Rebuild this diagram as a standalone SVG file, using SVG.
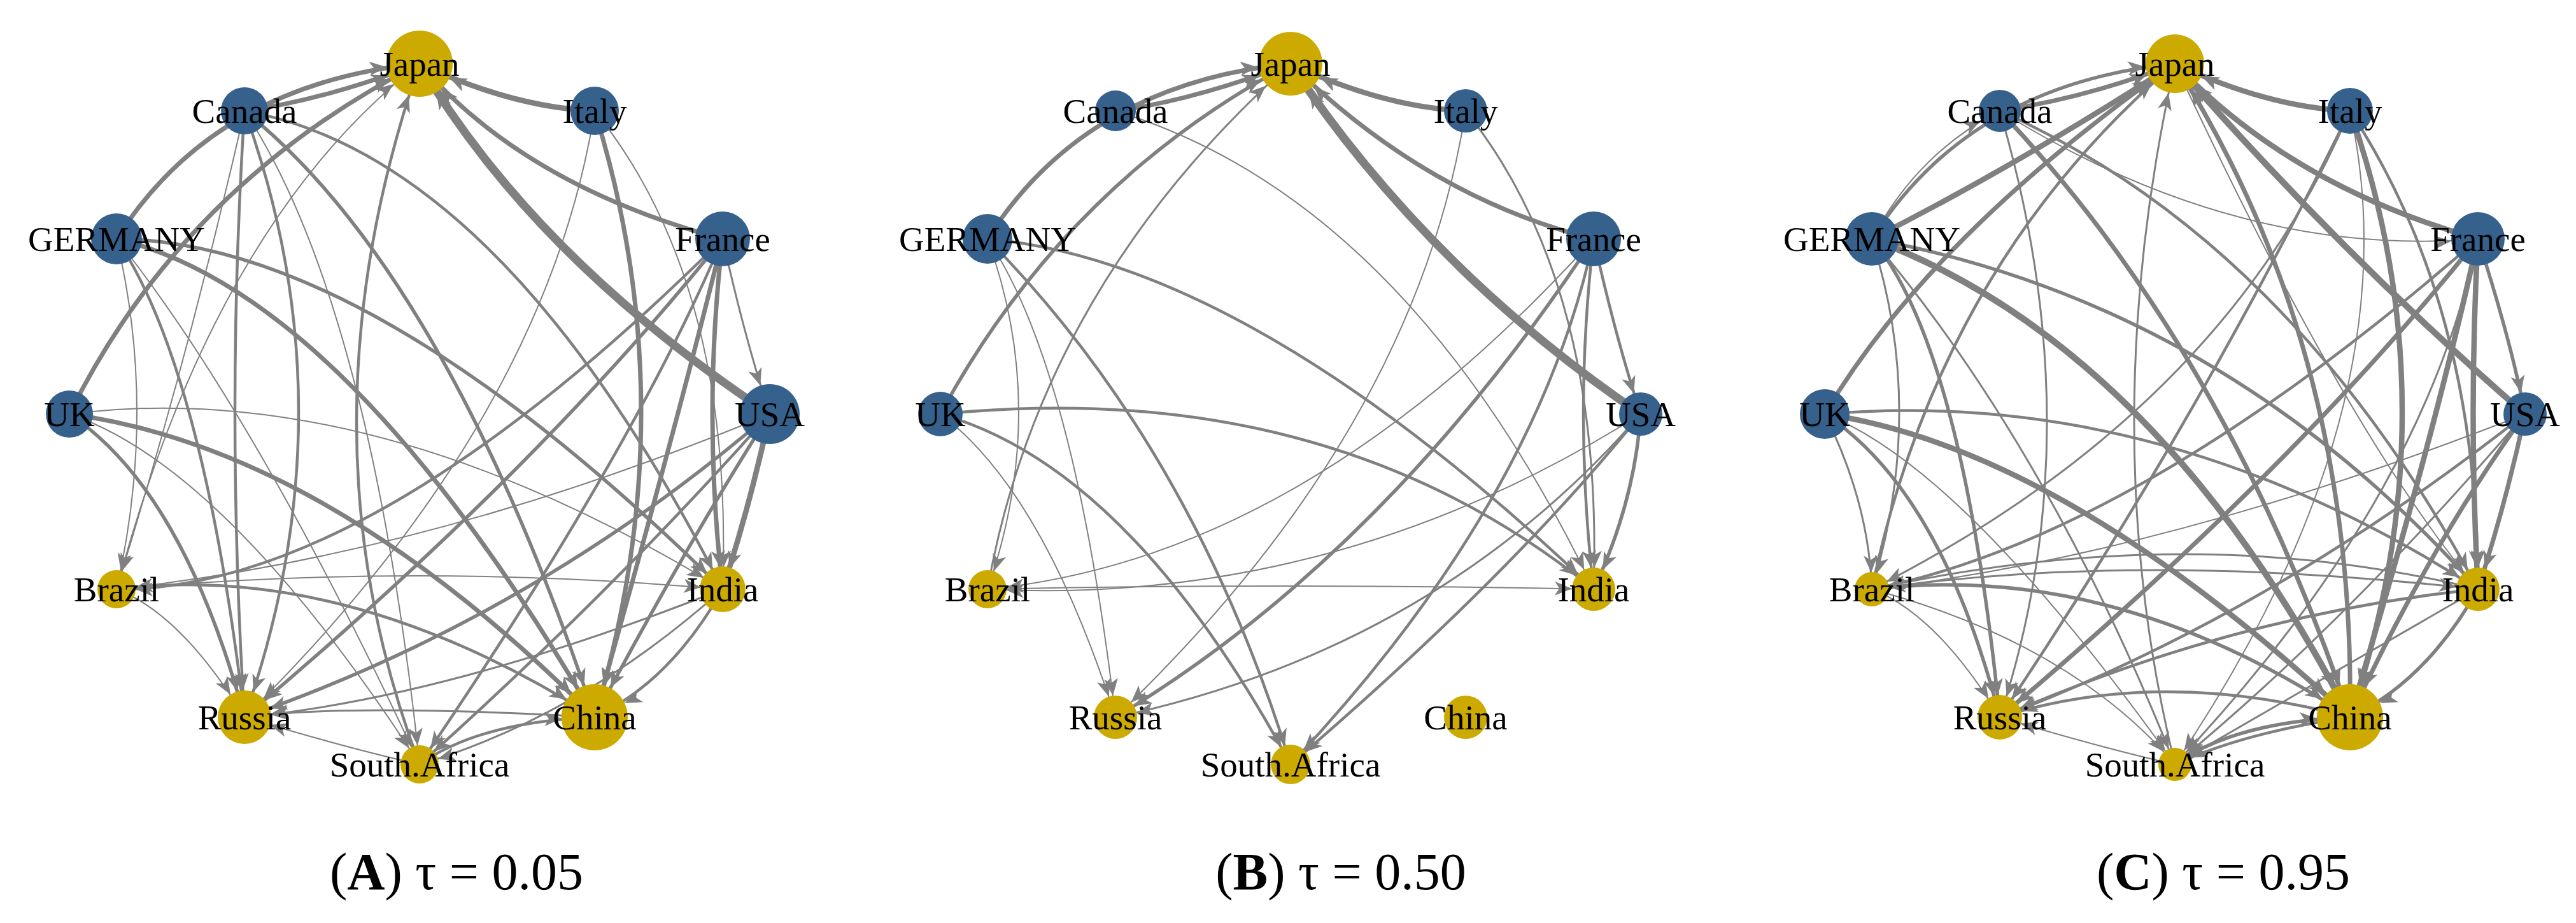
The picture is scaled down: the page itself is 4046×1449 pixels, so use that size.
<svg xmlns="http://www.w3.org/2000/svg" width="4046" height="1449" viewBox="0 0 4046 1449">
<style>
.e{fill:none;stroke:#808080;stroke-linecap:butt}
.t1{stroke-width:2}.t2{stroke-width:3}.t3{stroke-width:4.5}.t4{stroke-width:5.5}.t5{stroke-width:7}.t6{stroke-width:8.5}.t7{stroke-width:10}.t8{stroke-width:13}
.b{fill:#35618c}.y{fill:#ccaa00}
.lbl{font-family:"Liberation Serif","Times New Roman",serif;font-size:55px;text-anchor:middle;fill:#000}
.cap{font-family:"Liberation Serif","Times New Roman",serif;font-size:82px;text-anchor:middle;fill:#000}
</style>
<defs>
<path id="ah" d="M0,0 L-27,-11 L-20,0 L-27,11Z" fill="#808080"/>
<marker id="m26" markerUnits="userSpaceOnUse" orient="auto" refX="26" refY="0" markerWidth="1" markerHeight="1" overflow="visible"><use href="#ah"/></marker>
<marker id="m30" markerUnits="userSpaceOnUse" orient="auto" refX="30" refY="0" markerWidth="1" markerHeight="1" overflow="visible"><use href="#ah"/></marker>
<marker id="m34" markerUnits="userSpaceOnUse" orient="auto" refX="34" refY="0" markerWidth="1" markerHeight="1" overflow="visible"><use href="#ah"/></marker>
<marker id="m38" markerUnits="userSpaceOnUse" orient="auto" refX="38" refY="0" markerWidth="1" markerHeight="1" overflow="visible"><use href="#ah"/></marker>
<marker id="m42" markerUnits="userSpaceOnUse" orient="auto" refX="42" refY="0" markerWidth="1" markerHeight="1" overflow="visible"><use href="#ah"/></marker>
<marker id="m47" markerUnits="userSpaceOnUse" orient="auto" refX="47" refY="0" markerWidth="1" markerHeight="1" overflow="visible"><use href="#ah"/></marker>
<marker id="m52" markerUnits="userSpaceOnUse" orient="auto" refX="52" refY="0" markerWidth="1" markerHeight="1" overflow="visible"><use href="#ah"/></marker>
</defs>
<rect width="4046" height="1449" fill="#fff"/>

<!-- Panel A -->
<g id="panelA" transform="translate(659,650)">
<g id="connectorsA">
<path class="e t5" marker-end="url(#m52)" d="M-275,-476 Q-157,-491 0,-550"/>
<path class="e t5" marker-end="url(#m52)" d="M-476,-275 Q-322,-518 0,-550"/>
<path class="e t5" marker-end="url(#m52)" d="M-550,0 Q-371,-361 0,-550"/>
<path class="e t1" marker-end="url(#m52)" d="M-476,275 Q-322,-300 0,-550"/>
<path class="e t3" marker-end="url(#m52)" d="M0,550 Q-198,26 0,-550"/>
<path class="e t6" marker-end="url(#m52)" d="M275,-476 Q147,-481 0,-550"/>
<path class="e t5" marker-end="url(#m52)" d="M476,-275 Q166,-358 0,-550"/>
<path class="e t8" marker-end="url(#m52)" d="M550,0 Q181,-245 0,-550"/>
<path class="e t3" marker-end="url(#m42)" d="M-275,-476 Q-305,-6 -275,476"/>
<path class="e t3" marker-end="url(#m42)" d="M-275,-476 Q-105,-6 -275,476"/>
<path class="e t1" marker-end="url(#m30)" d="M-275,-476 Q-78,-177 0,550"/>
<path class="e t4" marker-end="url(#m52)" d="M-275,-476 Q42,-222 275,476"/>
<path class="e t3" marker-end="url(#m34)" d="M-275,-476 Q131,-403 476,275"/>
<path class="e t1" marker-end="url(#m30)" d="M-275,-476 Q-360,-100 -476,275"/>
<path class="e t1" marker-end="url(#m30)" d="M-476,-275 Q-412,-6 -476,275"/>
<path class="e t3" marker-end="url(#m42)" d="M-476,-275 Q-340,-74 -275,476"/>
<path class="e t1" marker-end="url(#m30)" d="M-476,-275 Q-254,4 0,550"/>
<path class="e t5" marker-end="url(#m52)" d="M-476,-275 Q-115,-190 275,476"/>
<path class="e t4" marker-end="url(#m34)" d="M-476,-275 Q-78,-272 476,275"/>
<path class="e t4" marker-end="url(#m42)" d="M-550,0 Q-371,120 -275,476"/>
<path class="e t5" marker-end="url(#m52)" d="M-550,0 Q-146,54 275,476"/>
<path class="e t1" marker-end="url(#m34)" d="M-550,0 Q-75,-61 476,275"/>
<path class="e t1" marker-end="url(#m30)" d="M-550,0 Q-303,83 0,550"/>
<path class="e t3" marker-end="url(#m30)" d="M476,-275 Q-78,276 -476,275"/>
<path class="e t4" marker-end="url(#m42)" d="M476,-275 Q183,91 -275,476"/>
<path class="e t5" marker-end="url(#m52)" d="M476,-275 Q406,10 275,476"/>
<path class="e t5" marker-end="url(#m34)" d="M476,-275 Q444,0 476,275"/>
<path class="e t3" marker-end="url(#m30)" d="M476,-275 Q338,54 0,550"/>
<path class="e t2" marker-end="url(#m47)" d="M476,-275 Q511,-118 550,0"/>
<path class="e t5" marker-end="url(#m52)" d="M275,-476 Q421,-6 275,476"/>
<path class="e t1" marker-end="url(#m42)" d="M275,-476 Q198,10 -275,476"/>
<path class="e t1" marker-end="url(#m34)" d="M275,-476 Q494,-205 476,275"/>
<path class="e t6" marker-end="url(#m34)" d="M550,0 Q520,140 476,275"/>
<path class="e t4" marker-end="url(#m52)" d="M550,0 Q421,202 275,476"/>
<path class="e t4" marker-end="url(#m42)" d="M550,0 Q180,318 -275,476"/>
<path class="e t3" marker-end="url(#m30)" d="M550,0 Q301,281 0,550"/>
<path class="e t1" marker-end="url(#m30)" d="M550,0 Q23,220 -476,275"/>
<path class="e t3" marker-end="url(#m52)" d="M-476,275 Q-115,230 275,476"/>
<path class="e t1" marker-end="url(#m42)" d="M-476,275 Q-374,314 -275,476"/>
<path class="e t1" marker-end="url(#m34)" d="M-476,275 Q-10,233 476,275"/>
<path class="e t3" marker-end="url(#m52)" d="M476,275 Q394,420 275,476"/>
<path class="e t2" marker-end="url(#m42)" d="M476,275 Q45,446 -275,476"/>
<path class="e t2" marker-end="url(#m30)" d="M476,275 Q252,475 0,550"/>
<path class="e t2" marker-end="url(#m42)" d="M275,476 Q-112,454 -275,476"/>
<path class="e t3" marker-end="url(#m52)" d="M0,550 Q94,483 275,476"/>
<path class="e t1" marker-end="url(#m42)" d="M0,550 Q-112,525 -275,476"/>
</g>
<g id="A-Japan"><circle class="y" cx="0" cy="-550" r="52"/><text class="lbl" x="0" y="-531">Japan</text></g>
<g id="A-Italy"><circle class="b" cx="275" cy="-476" r="38"/><text class="lbl" x="275" y="-457">Italy</text></g>
<g id="A-France"><circle class="b" cx="476" cy="-275" r="43"/><text class="lbl" x="476" y="-256">France</text></g>
<g id="A-USA"><circle class="b" cx="550" cy="0" r="47"/><text class="lbl" x="550" y="19">USA</text></g>
<g id="A-India"><circle class="y" cx="476" cy="275" r="36"/><text class="lbl" x="476" y="294">India</text></g>
<g id="A-China"><circle class="y" cx="275" cy="476" r="52"/><text class="lbl" x="275" y="495">China</text></g>
<g id="A-SouthAfrica"><circle class="y" cx="0" cy="550" r="30"/><text class="lbl" x="0" y="569">South.Africa</text></g>
<g id="A-Russia"><circle class="y" cx="-275" cy="476" r="42"/><text class="lbl" x="-275" y="495">Russia</text></g>
<g id="A-Brazil"><circle class="y" cx="-476" cy="275" r="30"/><text class="lbl" x="-476" y="294">Brazil</text></g>
<g id="A-UK"><circle class="b" cx="-550" cy="0" r="37"/><text class="lbl" x="-550" y="19">UK</text></g>
<g id="A-GERMANY"><circle class="b" cx="-476" cy="-275" r="40"/><text class="lbl" x="-476" y="-256">GERMANY</text></g>
<g id="A-Canada"><circle class="b" cx="-275" cy="-476" r="37"/><text class="lbl" x="-275" y="-457">Canada</text></g>
</g>

<!-- Panel B -->
<g id="panelB" transform="translate(2027,650)">
<g id="connectorsB">
<path class="e t5" marker-end="url(#m52)" d="M-275,-476 Q-157,-491 0,-550"/>
<path class="e t5" marker-end="url(#m52)" d="M-476,-275 Q-322,-518 0,-550"/>
<path class="e t4" marker-end="url(#m52)" d="M-550,0 Q-355,-361 0,-550"/>
<path class="e t2" marker-end="url(#m52)" d="M-476,275 Q-392,-200 0,-550"/>
<path class="e t6" marker-end="url(#m52)" d="M275,-476 Q147,-481 0,-550"/>
<path class="e t5" marker-end="url(#m52)" d="M476,-275 Q216,-339 0,-550"/>
<path class="e t8" marker-end="url(#m52)" d="M550,0 Q213,-229 0,-550"/>
<path class="e t1" marker-end="url(#m34)" d="M-275,-476 Q181,-337 476,275"/>
<path class="e t3" marker-end="url(#m34)" d="M-476,-275 Q-62,-238 476,275"/>
<path class="e t1" marker-end="url(#m30)" d="M-476,-275 Q-378,-6 -476,275"/>
<path class="e t1" marker-end="url(#m34)" d="M-476,-275 Q-340,-74 -275,476"/>
<path class="e t3" marker-end="url(#m30)" d="M-476,-275 Q-152,54 0,550"/>
<path class="e t3" marker-end="url(#m34)" d="M-550,0 Q61,-61 476,275"/>
<path class="e t3" marker-end="url(#m30)" d="M-550,0 Q-253,83 0,550"/>
<path class="e t1" marker-end="url(#m34)" d="M-550,0 Q-389,120 -275,476"/>
<path class="e t1" marker-end="url(#m34)" d="M275,-476 Q196,26 -275,476"/>
<path class="e t2" marker-end="url(#m34)" d="M275,-476 Q492,-205 476,275"/>
<path class="e t1" marker-end="url(#m30)" d="M476,-275 Q24,226 -476,275"/>
<path class="e t4" marker-end="url(#m34)" d="M476,-275 Q147,223 -275,476"/>
<path class="e t3" marker-end="url(#m30)" d="M476,-275 Q388,138 0,550"/>
<path class="e t3" marker-end="url(#m34)" d="M476,-275 Q511,-118 550,0"/>
<path class="e t3" marker-end="url(#m34)" d="M476,-275 Q444,0 476,275"/>
<path class="e t4" marker-end="url(#m34)" d="M550,0 Q540,140 476,275"/>
<path class="e t3" marker-end="url(#m30)" d="M550,0 Q351,249 0,550"/>
<path class="e t2" marker-end="url(#m34)" d="M550,0 Q230,368 -275,476"/>
<path class="e t1" marker-end="url(#m30)" d="M550,0 Q73,302 -476,275"/>
<path class="e t1" marker-end="url(#m34)" d="M-476,275 Q0,265 476,275"/>
</g>
<g id="B-Japan"><circle class="y" cx="0" cy="-550" r="50"/><text class="lbl" x="0" y="-531">Japan</text></g>
<g id="B-Italy"><circle class="b" cx="275" cy="-476" r="34"/><text class="lbl" x="275" y="-457">Italy</text></g>
<g id="B-France"><circle class="b" cx="476" cy="-275" r="43"/><text class="lbl" x="476" y="-256">France</text></g>
<g id="B-USA"><circle class="b" cx="550" cy="0" r="34"/><text class="lbl" x="550" y="19">USA</text></g>
<g id="B-India"><circle class="y" cx="476" cy="275" r="34"/><text class="lbl" x="476" y="294">India</text></g>
<g id="B-China"><circle class="y" cx="275" cy="476" r="34"/><text class="lbl" x="275" y="495">China</text></g>
<g id="B-SouthAfrica"><circle class="y" cx="0" cy="550" r="31"/><text class="lbl" x="0" y="569">South.Africa</text></g>
<g id="B-Russia"><circle class="y" cx="-275" cy="476" r="34"/><text class="lbl" x="-275" y="495">Russia</text></g>
<g id="B-Brazil"><circle class="y" cx="-476" cy="275" r="30"/><text class="lbl" x="-476" y="294">Brazil</text></g>
<g id="B-UK"><circle class="b" cx="-550" cy="0" r="35"/><text class="lbl" x="-550" y="19">UK</text></g>
<g id="B-GERMANY"><circle class="b" cx="-476" cy="-275" r="39"/><text class="lbl" x="-476" y="-256">GERMANY</text></g>
<g id="B-Canada"><circle class="b" cx="-275" cy="-476" r="32"/><text class="lbl" x="-275" y="-457">Canada</text></g>
</g>

<!-- Panel C -->
<g id="panelC" transform="translate(3416,650)">
<g id="connectorsC">
<path class="e t5" marker-end="url(#m47)" d="M-275,-476 Q-136,-497 0,-550"/>
<path class="e t4" marker-end="url(#m47)" d="M-476,-275 Q-322,-518 0,-550"/>
<path class="e t6" marker-end="url(#m47)" d="M-476,-275 Q-250,-389 0,-550"/>
<path class="e t5" marker-end="url(#m47)" d="M-550,0 Q-385,-279 0,-550"/>
<path class="e t3" marker-end="url(#m47)" d="M-476,275 Q-370,-234 0,-550"/>
<path class="e t2" marker-end="url(#m47)" d="M0,550 Q-128,26 0,-550"/>
<path class="e t6" marker-end="url(#m47)" d="M275,-476 Q147,-481 0,-550"/>
<path class="e t6" marker-end="url(#m47)" d="M476,-275 Q184,-357 0,-550"/>
<path class="e t7" marker-end="url(#m47)" d="M550,0 Q267,-245 0,-550"/>
<path class="e t5" marker-end="url(#m47)" d="M275,476 Q284,-103 0,-550"/>
<path class="e t1" marker-end="url(#m34)" d="M0,-550 Q270,31 476,275"/>
<path class="e t5" marker-end="url(#m52)" d="M-275,-476 Q78,-106 275,476"/>
<path class="e t3" marker-end="url(#m34)" d="M-275,-476 Q183,-271 476,275"/>
<path class="e t2" marker-end="url(#m34)" d="M-275,-476 Q-127,26 -275,476"/>
<path class="e t1" marker-end="url(#m42)" d="M-275,-476 Q97,-244 476,-275"/>
<path class="e t2" marker-end="url(#m26)" d="M-476,-275 Q-390,-6 -476,275"/>
<path class="e t4" marker-end="url(#m34)" d="M-476,-275 Q-334,-106 -275,476"/>
<path class="e t2" marker-end="url(#m26)" d="M-476,-275 Q-198,54 0,550"/>
<path class="e t7" marker-end="url(#m52)" d="M-476,-275 Q-27,-106 275,476"/>
<path class="e t4" marker-end="url(#m34)" d="M-476,-275 Q78,-172 476,275"/>
<path class="e t1" marker-end="url(#m34)" d="M-476,-275 Q-404,-410 -275,-476"/>
<path class="e t4" marker-end="url(#m34)" d="M-550,0 Q-367,120 -275,476"/>
<path class="e t6" marker-end="url(#m52)" d="M-550,0 Q-178,54 275,476"/>
<path class="e t3" marker-end="url(#m34)" d="M-550,0 Q-21,-45 476,275"/>
<path class="e t1" marker-end="url(#m26)" d="M-550,0 Q-333,83 0,550"/>
<path class="e t2" marker-end="url(#m26)" d="M-550,0 Q-481,138 -476,275"/>
<path class="e t6" marker-end="url(#m52)" d="M275,-476 Q439,-6 275,476"/>
<path class="e t3" marker-end="url(#m34)" d="M275,-476 Q476,-171 476,275"/>
<path class="e t3" marker-end="url(#m34)" d="M275,-476 Q28,26 -275,476"/>
<path class="e t1" marker-end="url(#m26)" d="M275,-476 Q378,-11 0,550"/>
<path class="e t2" marker-end="url(#m26)" d="M275,-476 Q76,-5 -476,275"/>
<path class="e t6" marker-end="url(#m34)" d="M476,-275 Q461,0 476,275"/>
<path class="e t6" marker-end="url(#m52)" d="M476,-275 Q406,41 275,476"/>
<path class="e t5" marker-end="url(#m34)" d="M476,-275 Q183,91 -275,476"/>
<path class="e t3" marker-end="url(#m26)" d="M476,-275 Q-58,192 -476,275"/>
<path class="e t2" marker-end="url(#m26)" d="M476,-275 Q390,138 0,550"/>
<path class="e t4" marker-end="url(#m34)" d="M476,-275 Q527,-118 550,0"/>
<path class="e t5" marker-end="url(#m34)" d="M550,0 Q520,140 476,275"/>
<path class="e t5" marker-end="url(#m52)" d="M550,0 Q403,202 275,476"/>
<path class="e t3" marker-end="url(#m34)" d="M550,0 Q146,318 -275,476"/>
<path class="e t2" marker-end="url(#m26)" d="M550,0 Q267,331 0,550"/>
<path class="e t1" marker-end="url(#m26)" d="M550,0 Q-9,220 -476,275"/>
<path class="e t4" marker-end="url(#m52)" d="M-476,275 Q-95,230 275,476"/>
<path class="e t1" marker-end="url(#m34)" d="M-476,275 Q-374,314 -275,476"/>
<path class="e t2" marker-end="url(#m34)" d="M-476,275 Q-58,215 476,275"/>
<path class="e t1" marker-end="url(#m26)" d="M-476,275 Q-164,359 0,550"/>
<path class="e t4" marker-end="url(#m52)" d="M476,275 Q394,420 275,476"/>
<path class="e t3" marker-end="url(#m34)" d="M476,275 Q97,314 -275,476"/>
<path class="e t2" marker-end="url(#m26)" d="M476,275 Q218,425 0,550"/>
<path class="e t2" marker-end="url(#m26)" d="M476,275 Q28,165 -476,275"/>
<path class="e t3" marker-end="url(#m34)" d="M275,476 Q-24,396 -275,476"/>
<path class="e t4" marker-end="url(#m52)" d="M0,550 Q94,483 275,476"/>
<path class="e t1" marker-end="url(#m34)" d="M0,550 Q-112,525 -275,476"/>
<path class="e t3" marker-end="url(#m26)" d="M275,476 Q112,499 0,550"/>
</g>
<g id="C-Japan"><circle class="y" cx="0" cy="-550" r="46"/><text class="lbl" x="0" y="-531">Japan</text></g>
<g id="C-Italy"><circle class="b" cx="275" cy="-476" r="36"/><text class="lbl" x="275" y="-457">Italy</text></g>
<g id="C-France"><circle class="b" cx="476" cy="-275" r="42"/><text class="lbl" x="476" y="-256">France</text></g>
<g id="C-USA"><circle class="b" cx="550" cy="0" r="34"/><text class="lbl" x="550" y="19">USA</text></g>
<g id="C-India"><circle class="y" cx="476" cy="275" r="34"/><text class="lbl" x="476" y="294">India</text></g>
<g id="C-China"><circle class="y" cx="275" cy="476" r="52"/><text class="lbl" x="275" y="495">China</text></g>
<g id="C-SouthAfrica"><circle class="y" cx="0" cy="550" r="26"/><text class="lbl" x="0" y="569">South.Africa</text></g>
<g id="C-Russia"><circle class="y" cx="-275" cy="476" r="35"/><text class="lbl" x="-275" y="495">Russia</text></g>
<g id="C-Brazil"><circle class="y" cx="-476" cy="275" r="27"/><text class="lbl" x="-476" y="294">Brazil</text></g>
<g id="C-UK"><circle class="b" cx="-550" cy="0" r="39"/><text class="lbl" x="-550" y="19">UK</text></g>
<g id="C-GERMANY"><circle class="b" cx="-476" cy="-275" r="42"/><text class="lbl" x="-476" y="-256">GERMANY</text></g>
<g id="C-Canada"><circle class="b" cx="-275" cy="-476" r="33"/><text class="lbl" x="-275" y="-457">Canada</text></g>
</g>

<g id="captions">
<text class="cap" x="717" y="1396">(<tspan font-weight="bold">A</tspan>) τ = 0.05</text>
<text class="cap" x="2106" y="1396">(<tspan font-weight="bold">B</tspan>) τ = 0.50</text>
<text class="cap" x="3492" y="1396">(<tspan font-weight="bold">C</tspan>) τ = 0.95</text>
</g>
</svg>
